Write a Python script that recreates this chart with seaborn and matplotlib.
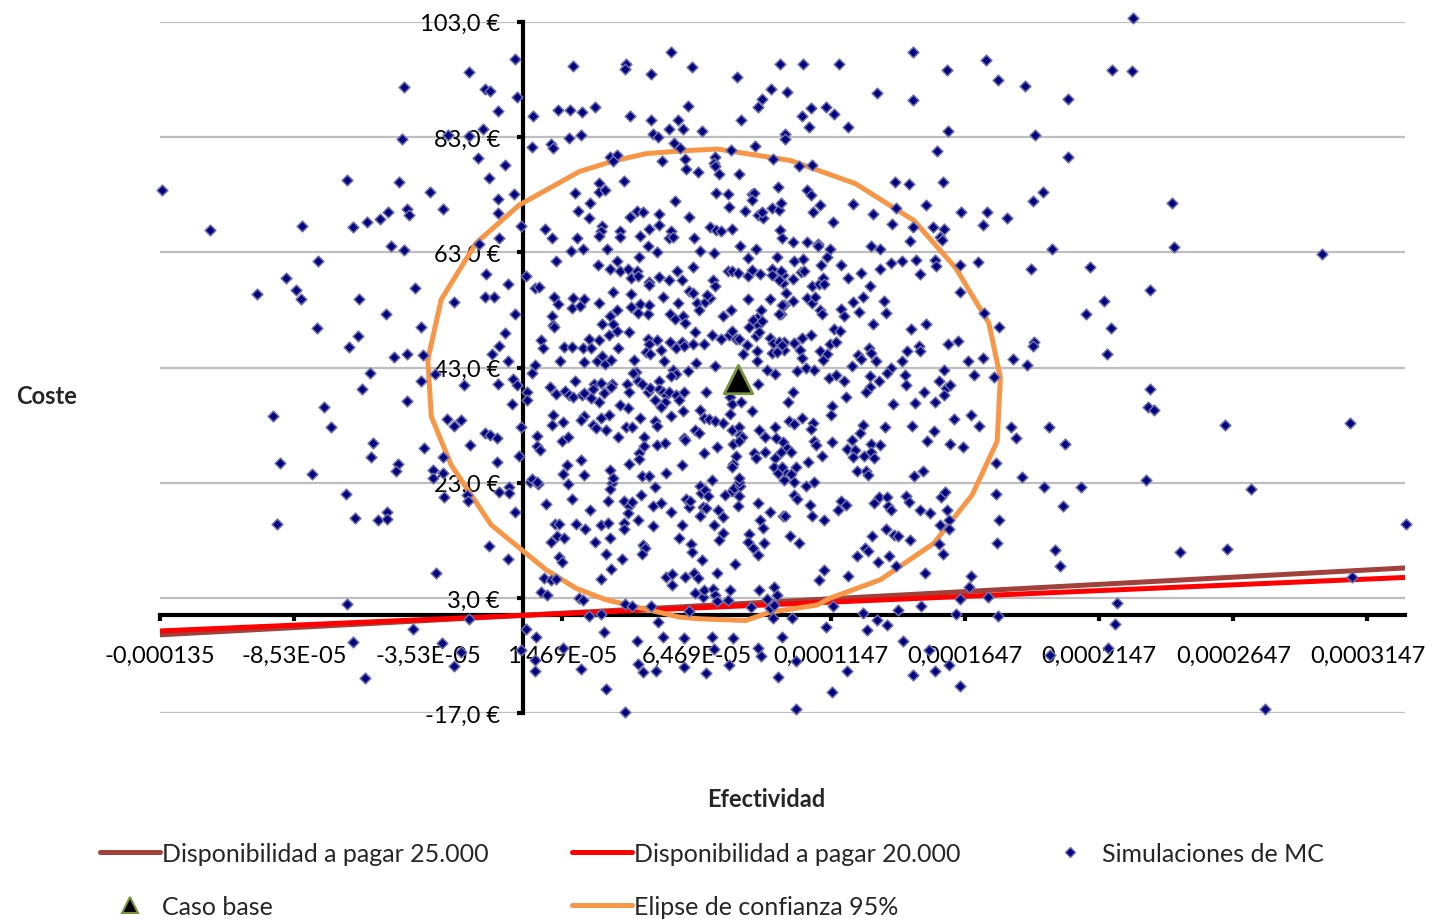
import numpy as np
import matplotlib
matplotlib.use("Agg")
import matplotlib.pyplot as plt
import seaborn as sns
from matplotlib.lines import Line2D

# ---------------- data ----------------
# Monte Carlo simulations: effectiveness (in units of 1e-5) and cost (EUR)
mc_points = [
    (-2.00,94.2),(-4.455,91.7),(-4.50,82.7),(-2.80,83.4),(-2.00,83.1),(-13.47,73.8),(-6.55,75.5),(-4.64,75.1),(-3.47,73.4),(-11.65,66.9),
    (-8.25,67.6),(-6.32,67.3),(-5.80,68.3),(-5.33,68.8),(-5.02,70.0),(-4.32,70.5),(-4.25,69.5),(-2.97,70.5),(-4.94,64.1),(-4.42,63.4),
    (-0.31,96.6),(-0.21,89.9),(-1.41,91.3),(-1.25,91.0),(-0.93,87.5),(-1.50,84.3),(-1.69,79.4),(-0.66,78.1),(-1.28,75.9),(-0.35,73.1),
    (-0.92,72.3),(-0.92,69.8),(-0.06,67.6),(-0.88,65.4),(-1.63,64.4),
    (1.87,95.4),(3.85,95.7),(3.79,94.8),(5.50,97.8),(4.78,94.0),(6.30,95.1),(7.97,93.4),(9.58,95.7),(9.23,91.3),(8.92,89.6),(8.76,88.2),
    (0.36,86.6),(1.29,87.7),(1.74,87.6),(2.20,87.3),(2.67,88.2),(1.70,82.9),(2.16,83.4),(0.32,81.3),(1.03,81.8),(1.13,81.0),
    (3.98,86.7),(4.78,85.9),(5.78,85.9),(6.14,88.4),(5.43,84.4),(5.96,84.4),(6.67,84.1),(4.86,83.5),(5.04,83.0),(5.63,81.9),(5.86,81.1),
    (8.14,86.0),(7.74,80.8),(8.66,81.5),(3.23,79.6),(3.50,79.8),(3.35,78.9),(6.04,79.1),(5.17,78.9),(6.08,77.4),(6.53,77.0),
    (7.16,79.6),(7.11,78.4),(7.17,77.9),(7.31,76.6),(8.05,76.5),(9.33,79.1),(3.75,75.4),(2.84,75.0),(2.82,73.4),(3.06,73.8),
    (1.95,73.3),(2.50,71.6),(2.04,70.2),(2.46,68.9),(3.98,69.2),(4.25,70.1),(4.47,70.0),(5.65,71.9),(5.05,69.6),(5.07,67.8),
    (4.68,67.1),(4.34,65.9),(3.60,66.6),(3.62,65.7),(2.95,67.6),(2.90,66.6),(2.83,65.8),(2.01,65.5),(0.82,67.1),(1.09,65.4),
    (5.50,66.6),(5.45,65.5),(5.57,65.7),(6.36,65.4),(6.19,69.2),(6.97,67.4),(7.18,66.9),(7.37,66.6),(7.78,67.1),(7.18,73.3),
    (7.64,73.1),(7.67,70.9),(8.27,70.2),(8.55,73.1),(8.62,73.3),(8.52,72.1),(8.76,69.4),(8.96,68.9),(8.90,69.9),(9.27,70.7),
    (9.54,70.4),(9.60,71.6),(9.51,74.3),(9.58,66.9),(9.64,65.4),
    (10.42,95.6),(11.76,95.6),(14.53,97.7),(17.24,96.3),(15.81,94.6),(17.69,92.8),(18.72,91.8),(20.31,89.6),(9.85,90.8),(13.19,90.6),(14.53,89.4),
    (10.41,86.7),(10.72,88.0),(10.67,84.8),(11.29,88.2),(11.59,87.0),(12.11,84.8),(9.78,83.6),(9.75,82.6),(15.85,84.1),(19.08,83.4),(20.31,79.6),
    (15.44,80.5),(10.30,77.9),(10.76,78.1),(15.64,75.2),(13.86,75.1),(14.37,74.8),(10.58,73.8),(10.73,72.9),(11.07,71.2),(10.81,70.0),
    (12.31,71.4),(11.54,68.3),(13.04,69.7),(13.90,70.7),(15.03,71.2),(16.31,70.0),(17.30,70.0),(17.13,67.8),(18.02,69.0),(19.02,71.9),(19.36,73.5),
    (13.76,67.9),(14.53,67.3),(14.43,64.9),(15.29,67.4),(15.70,67.1),(15.55,65.7),(15.62,65.2),(10.06,64.8),(10.58,64.8),(10.98,64.4),(11.00,64.0),(11.44,63.6),
    (12.96,64.0),(13.29,63.6),(19.72,63.6),
    (22.74,103.7),(21.96,94.6),(22.69,94.4),(24.17,71.6),(24.27,63.9),(29.77,62.7),
    (-7.64,61.4),(-8.82,58.5),(-9.90,55.8),(-8.48,56.4),(-8.29,54.9),(-4.01,56.8),(-6.12,54.9),(-2.58,54.4),(-5.09,52.3),(-7.69,49.9),
    (-3.79,50.1),(-6.15,48.5),(-6.50,46.5),(-4.81,44.8),(-4.32,45.3),(-3.73,45.1),(-5.70,42.0),(-3.30,41.9),(-3.80,40.6),(-2.21,39.9),
    (-6.02,39.3),(-4.32,37.2),(-7.41,36.2),(-9.33,34.5),(-7.14,32.7),(-2.83,34.1),(-2.56,32.8),(-2.31,33.9),(-5.58,29.9),(-3.70,29.0),
    (-5.66,27.4),(-2.98,27.4),(-9.07,26.4),(-4.66,26.3),(-4.73,25.1),(-7.86,24.5),(-3.35,25.3),(-2.98,24.7),(-3.35,23.8),(-1.96,29.5),
    (-6.61,21.1),(-9.17,15.8),(-6.26,16.8),(-5.40,16.5),(-5.06,18.0),(-5.06,16.7),(-2.93,20.5),(-2.08,20.8),(-2.06,19.8),(-3.24,7.4),
    (-6.55,1.9),(-4.11,-2.4),(-6.32,-4.6),(-3.01,-4.8),(-2.30,-6.4),(-2.58,-8.8),(-5.88,-10.8),(-2.00,-0.6),
    (-0.88,21.4),(-0.51,22.3),(-0.51,21.2),(-0.30,18.0),(-1.28,12.0),(-0.57,9.8),(0.11,-2.4),(-0.07,-6.1),(0.48,-3.8),(0.46,-7.7),
    (0.46,-9.6),(0.27,23.2),(0.55,22.8),(1.67,22.8),(1.81,20.2),(0.87,19.4),
    (1.20,15.8),(1.35,15.8),(1.25,13.8),(1.51,13.4),(1.03,12.7),(1.35,10.2),(1.45,9.2),(0.77,6.5),(1.03,6.1),(1.23,6.3),(0.67,4.0),(0.89,3.6),
    (1.98,15.8),(2.31,15.0),(2.50,18.2),(2.67,12.7),(2.89,15.7),(3.15,16.1),(3.15,19.8),(3.30,23.0),(3.23,21.9),(3.25,13.4),(3.09,10.6),(3.29,8.0),(2.90,6.3),
    (2.10,3.0),(2.24,2.6),(2.47,-0.2),(2.90,0.3),(3.03,-2.9),(3.09,-12.7),(2.16,-9.3),(1.48,-5.7),
    (3.75,19.8),(3.93,19.0),(4.05,19.7),(3.90,17.7),(3.75,16.0),(3.77,15.0),(4.27,16.5),(3.67,9.8),(4.40,20.9),(4.92,22.3),(4.83,18.9),(5.15,19.5),(4.84,15.5),
    (4.48,12.2),(4.53,11.7),(4.44,10.6),(3.81,1.9),(4.05,1.7),(4.78,1.7),(5.03,-1.2),(4.24,-4.5),(4.27,-8.5),(4.46,-9.9),(4.96,-9.7),(5.20,-3.8),(3.81,-16.7),
    (5.50,18.0),(5.32,6.6),(5.56,7.1),(5.55,5.2),(5.92,15.6),(5.80,13.4),(6.07,20.2),(6.17,18.8),(6.24,19.9),(6.26,12.4),(6.30,11.0),(6.02,6.6),(6.36,7.3),(6.53,6.4),
    (6.67,9.6),(6.41,3.9),(6.69,3.1),(6.75,4.4),(6.19,0.8),(6.00,-4.0),(5.99,-8.9),
    (6.60,22.4),(6.63,21.3),(6.79,21.8),(6.91,20.7),(6.71,18.8),(6.82,18.7),(6.59,17.2),(7.28,18.2),(7.44,17.0),(7.12,15.6),(7.44,14.3),(7.32,13.1),(7.21,7.4),
    (7.07,4.6),(7.15,3.6),(7.22,2.4),(7.63,2.7),(7.71,4.4),(7.06,-3.8),(7.10,-5.8),(6.81,-10.0),(7.66,-8.6),(7.83,-3.9),
    (7.51,20.9),(7.79,21.5),(7.88,22.1),(8.08,22.5),(8.05,23.2),(8.03,20.7),(8.00,19.0),(7.89,8.9),(8.42,14.1),(8.40,12.8),(8.57,11.7),(8.77,10.5),
    (8.75,19.5),(8.82,16.5),(8.96,15.1),(8.98,12.5),(9.19,17.9),(8.48,1.4),(8.80,4.4),(9.11,2.9),(9.35,5.0),(9.45,3.5),(9.19,1.3),(9.35,1.8),(9.31,-0.4),
    (8.77,-5.7),(8.86,-7.0),(9.50,-10.7),(9.64,-3.7),(9.69,17.3),
    (9.73,23.5),(10.10,23.1),(10.53,22.5),(10.84,23.2),(10.08,20.9),(10.22,20.1),(10.69,19.2),(10.78,17.3),(9.76,17.3),(11.21,16.5),(11.84,19.9),(12.02,19.2),(11.74,18.2),(9.95,13.7),(10.27,12.5),
    (13.08,19.5),(13.26,20.5),(13.55,20.5),(13.61,18.9),(13.70,18.2),(14.26,20.7),(14.38,19.7),(14.81,18.3),(15.15,17.7),(15.56,20.5),(15.72,21.4),(15.81,18.2),(15.87,16.6),(15.53,15.7),(15.87,15.0),
    (13.54,14.9),(13.82,14.0),(13.97,13.7),(14.42,13.1),(12.99,13.7),(12.74,11.6),(12.85,11.2),(12.46,10.3),(13.63,10.3),(13.91,8.6),(13.24,9.2),(15.50,12.4),(15.66,10.6),(14.97,7.4),
    (11.21,7.9),(11.03,6.1),(12.12,6.9),(11.55,1.7),(12.68,0.4),(13.20,-0.8),(13.57,-1.6),(12.83,-2.6),(13.97,1.0),(14.84,1.7),(11.30,-2.1),(10.01,-0.4),(10.16,-8.0),
    (14.15,-4.5),(12.06,-9.7),(11.50,-13.3),(10.19,-16.3),(15.12,-6.0),(14.53,-10.4),(15.34,-9.7),(15.87,-8.7),(16.30,-12.3),(16.15,0.3),(16.30,2.9),(16.62,4.9),(16.71,6.9),
    (17.33,3.2),(17.69,-0.2),(17.61,21.1),(17.75,16.5),(17.67,12.5),(19.40,22.3),(20.13,18.9),(20.80,22.3),(19.84,11.3),(20.03,8.6),(19.65,-6.8),
    (23.23,23.5),(27.13,22.0),(32.89,15.8),(24.49,11.0),(26.23,11.5),(30.88,6.7),(22.15,2.1),(22.07,-1.5),(21.79,-5.7),(27.66,-16.3),
    (23.35,56.5),(21.66,54.6),(21.91,49.8),(21.76,45.3),(23.35,39.3),(23.28,36.2),(23.50,35.7),(26.17,33.1),(30.83,33.3),(21.14,60.4),(20.98,52.2),
    (18.93,60.1),(16.27,60.8),(16.94,61.3),(16.27,56.1),(17.19,52.4),(17.74,50.1),(15.85,47.1),(16.21,47.6),(19.03,47.5),(19.01,46.7),(16.58,44.1),(17.13,44.6),(18.26,44.5),(18.77,43.4),(16.82,41.7),(17.54,41.4),(15.68,42.6),
    (15.50,40.6),(15.77,39.4),(15.90,40.0),(15.68,38.3),(15.35,37.0),(15.03,50.5),(14.47,49.6),(14.75,46.8),(14.79,45.8),(14.32,45.8),(14.12,44.2),(13.70,43.0),(13.57,42.1),(14.22,41.7),(14.26,40.0),(14.94,38.7),(14.60,36.9),(13.80,36.7),
    (16.05,34.1),(16.68,34.8),(17.00,32.8),(18.20,32.6),(18.36,30.8),(19.60,32.6),(20.21,29.7),(17.63,26.4),(18.58,24.0),(14.48,32.8),(15.31,31.9),(15.06,30.2),(15.90,29.8),(16.40,29.2),(14.56,24.2),(14.90,25.1),(13.50,32.7),
    (13.05,50.6),(12.93,57.1),(13.29,60.1),(13.70,61.1),(14.11,61.4),(14.63,61.6),(14.79,59.2),(15.34,61.6),(15.40,60.6),(13.45,54.5),(13.51,52.4),(12.68,55.2),(12.31,54.4),(12.52,52.7),(11.84,53.2),(11.96,52.0),(11.59,49.7),(11.81,49.3),
    (12.61,59.4),(12.11,58.5),(11.84,60.8),(11.09,60.8),(10.10,61.4),(10.43,61.9),(10.35,59.6),(10.47,59.8),(10.06,58.3),(9.67,59.0),(9.67,57.7),(10.78,57.2),(11.03,57.5),(11.19,58.6),(11.21,57.5),
    (9.81,56.0),(9.73,53.9),(10.06,54.5),(10.57,55.1),(10.78,54.2),(10.88,55.3),(11.07,52.9),(11.16,52.3),(9.60,52.2),(10.41,48.1),(10.72,48.7),(10.10,47.2),(9.73,47.5),(9.73,46.1),(10.31,46.1),(10.41,44.6),
    (11.07,45.8),(11.32,45.3),(11.18,44.3),(11.44,47.1),(11.68,47.5),(12.25,43.2),(12.48,45.2),(12.58,44.5),(12.89,46.3),(12.95,45.5),(13.14,44.2),(10.20,42.4),(10.53,43.0),(10.84,42.6),
    (11.40,41.2),(11.65,41.7),(11.96,40.7),(12.92,41.6),(13.26,40.6),(12.93,39.7),(12.80,38.8),(10.06,38.7),(9.87,37.1),(12.05,37.9),(11.53,36.4),(11.49,34.7),(10.41,34.3),(9.91,33.8),(10.08,33.2),(10.82,33.4),(10.72,32.3),
    (12.68,33.1),(12.55,31.6),(12.25,30.5),(11.50,30.1),(9.70,30.0),(9.85,29.0),(9.98,28.4),(10.84,30.3),(10.93,29.6),(12.09,28.9),(12.37,28.6),(12.31,27.4),(12.95,29.7),(13.29,29.6),(12.98,28.3),(12.70,27.6),(13.07,27.3),
    (11.16,27.6),(10.62,26.6),(9.73,25.0),(10.16,25.7),(9.98,24.6),(12.43,25.1),(12.80,25.0),(12.85,24.4),(11.34,62.1),
    (-1.38,59.2),(-0.57,57.5),(-1.40,55.2),(-1.07,55.3),(-0.30,52.3),(-0.66,48.9),(-0.88,46.8),(-1.15,45.3),(-0.57,44.2),(-0.92,40.1),
    (-0.38,41.0),(-0.23,40.0),(-0.41,36.7),(-1.41,31.7),(-1.25,31.3),(-0.98,30.8),(-0.97,26.6),(-0.14,27.7),(-0.07,32.6),
    (0.11,58.8),(0.15,38.8),(0.15,37.4),(0.33,42.0),(0.46,43.5),
    (1.80,63.3),(2.25,63.5),(3.13,63.5),(4.32,62.1),(4.66,64.1),(5.01,63.0),(1.22,61.4),(2.78,60.8),(3.23,60.1),(3.49,61.4),(3.60,59.8),(3.91,60.1),(4.04,58.6),(4.23,59.8),
    (4.29,58.8),(4.70,57.9),(5.06,58.7),(4.71,57.3),(5.45,58.1),(5.74,59.8),(5.94,58.1),(6.32,60.4),(6.58,63.3),(7.12,62.9),(7.07,58.1),(7.17,57.1),(7.63,59.8),(7.80,59.8),
    (8.00,59.4),(8.08,64.0),(8.68,63.6),(8.37,62.0),(9.45,62.1),(8.37,58.8),(8.52,59.9),(8.83,59.2),(9.28,60.1),(9.26,59.0),(9.62,59.7),(9.55,58.1),
    (0.46,56.8),(0.61,57.0),(1.17,55.3),(1.29,54.0),(1.87,55.0),(1.82,53.4),(2.12,53.6),(2.28,54.8),(2.84,54.2),(3.34,56.1),(3.50,53.0),(4.04,55.7),(4.04,53.5),(4.34,54.0),
    (4.30,52.4),(4.64,52.3),(5.20,55.3),(4.70,53.9),(5.79,54.2),(6.19,56.2),(6.35,55.9),(6.50,54.2),(6.77,54.4),(6.97,55.0),(6.84,55.6),(6.54,52.9),(7.46,51.9),(7.75,53.0),
    (8.37,54.9),(8.85,53.0),(8.71,51.6),(9.19,54.9),(9.54,52.3),(9.66,53.9),
    (1.08,51.9),(1.13,50.4),(1.14,50.0),(3.25,52.0),(2.93,50.6),(3.37,50.5),(5.47,52.3),(5.67,51.5),(5.97,52.0),(6.04,50.7),(3.50,49.3),(3.96,49.1),(3.19,48.6),(2.84,47.7),
    (2.47,48.0),(0.67,47.8),(0.73,46.3),(1.54,46.5),(1.82,46.5),(2.25,46.4),(2.53,46.3),(3.55,46.3),
    (4.64,48.0),(4.68,47.1),(5.01,47.7),(4.58,45.7),(4.73,45.3),(5.14,46.0),(5.47,47.4),(5.69,46.3),(5.92,47.5),(6.00,46.8),(6.41,49.1),(6.35,47.1),(6.75,47.1),(7.06,48.6),
    (7.37,48.0),(7.66,48.6),(7.80,49.3),(7.93,47.9),(8.06,48.0),
    (8.41,50.0),(8.57,51.2),(8.76,50.4),(8.67,48.5),(8.80,49.1),(8.90,51.0),(8.36,46.9),(8.72,45.9),(8.18,45.4),(9.19,48.1),(9.33,47.2),(9.54,47.4),(9.64,46.9),(9.29,45.5),(9.48,45.7),
    (1.39,44.2),(2.26,44.0),(2.75,44.1),(2.93,45.0),(3.06,43.6),(3.28,44.3),(4.14,44.3),(5.24,44.1),(4.21,42.3),(4.08,42.0),(5.60,42.5),(5.69,41.9),(5.53,41.6),(6.15,42.4),
    (6.44,43.8),(7.16,43.2),(8.72,44.1),(9.08,42.6),(9.40,41.9),
    (1.95,40.6),(2.63,40.2),(2.90,40.3),(3.30,40.1),(1.02,39.6),(1.23,38.4),(1.56,39.0),(1.70,38.3),(1.87,37.8),(2.18,38.2),(2.28,38.6),(2.59,39.3),(2.53,37.7),(2.84,37.1),
    (3.03,38.6),(3.27,39.7),
    (3.86,40.2),(3.96,38.8),(4.29,40.7),(4.45,40.1),(4.64,38.8),(4.74,39.5),(5.05,40.7),(5.07,39.3),(5.20,38.7),(5.32,38.2),(5.45,38.8),(4.93,37.4),(5.30,37.1),(5.14,36.1),
    (5.69,38.2),(5.82,37.4),(6.00,38.8),(3.63,36.5),(3.90,36.0),
    (6.81,38.7),(7.70,37.8),(7.78,36.7),(8.13,37.1),(8.75,40.1),(8.55,35.5),(6.60,35.7),(6.75,34.2),(6.93,34.1),(7.16,33.8),(7.70,35.0),(5.95,35.4),(5.51,34.5),(4.93,33.8),
    (5.01,32.8),(4.37,34.2),(3.83,32.6),(4.06,32.6),
    (3.21,34.8),(2.90,34.3),(2.59,33.1),(2.72,32.5),(2.28,34.5),(2.16,33.9),(1.48,33.5),(1.13,34.8),(1.08,33.1),(3.09,32.1),(3.54,31.0),(4.52,30.9),(4.52,29.4),(4.99,29.6),
    (5.30,29.9),(4.33,28.2),(6.01,30.8),(6.04,30.5),(6.41,32.2),(6.54,31.6),
    (7.47,33.4),(7.80,32.2),(8.03,32.6),(8.08,31.3),(8.15,30.9),(7.84,29.8),(8.05,30.2),(7.22,29.2),(6.75,28.2),(8.80,32.2),(9.02,30.9),(9.39,32.6),(9.42,30.8),(8.61,28.2),
    (9.02,28.3),(8.70,27.3),(9.60,28.4),(9.39,27.3),
    (0.51,31.2),(0.51,29.3),(0.63,28.6),(1.44,30.2),(1.69,30.9),(2.16,27.0),(1.62,26.0),(1.48,24.5),(4.33,27.2),(3.96,26.3),(3.25,25.3),(5.94,26.1),(7.93,27.6),(7.84,26.2),
    (7.80,25.7),(7.06,23.5),(8.05,23.8),(9.36,25.8),(9.52,24.7),(9.64,25.8),
    (4.45,24.1),(4.68,24.2),(5.32,24.7),(2.28,24.4),(3.37,23.8),(0.32,23.7),(0.52,23.1),
]
efect_mc_e5 = [p[0] for p in mc_points]
coste_mc = [p[1] for p in mc_points]

# 95% confidence ellipse vertices (effectiveness in 1e-5, cost EUR)
elipse_efect_e5 = [-3.55, -3.42, -2.68, -1.19, 0.86, 1.97, 3.09, 5.82, 6.56, 8.30, 9.17, 10.97, 11.46, 13.33,
                   15.31, 16.74, 17.67, 17.79, 17.36, 16.12, 14.57, 12.39, 9.98, 7.25, 5.94, 4.58, 3.34,
                   2.10, -0.14, -1.75, -3.05, -3.55]
elipse_coste = [44.35, 34.5, 26.1, 15.7, 7.9, 4.7, 2.7, -0.3, -0.6, -0.9, 0.5, 1.8, 3.0, 6.2,
                12.5, 20.9, 30.2, 41.2, 50.7, 60.3, 68.5, 74.9, 78.9, 80.9, 80.6, 80.1, 78.8,
                77.0, 71.2, 64.6, 54.8, 44.35]

# base case
caso_base_efect_e5 = [8.01]
caso_base_coste = [41.0]

# willingness-to-pay lines (end points)
wtp_efect = [-0.00013531, 0.0003287]
wtp25_coste = [-3.38, 8.22]
wtp20_coste = [-2.71, 6.57]

# axes
x_min, x_max = -0.00013531, 0.0003287
x_step = 0.00005
xtick_labels = ["-0,000135", "-8,53E-05", "-3,53E-05", "1,469E-05", "6,469E-05",
                "0,0001147", "0,0001647", "0,0002147", "0,0002647", "0,0003147"]
y_ticks = [-17, 3, 23, 43, 63, 83, 103]
ytick_labels = ["-17,0 €", "3,0 €", "23,0 €", "43,0 €", "63,0 €", "83,0 €", "103,0 €"]

# ---------------- style ----------------
sns.set_theme(style="white")
plt.rcParams["font.family"] = ["Lato", "DejaVu Sans"]

C_MC = "#000080"
C_WTP25 = "#A0413C"
C_WTP20 = "#FF0000"
C_ELL = "#F79646"

fig = plt.figure(figsize=(14.32, 9.2), dpi=100)
ax = fig.add_axes([160 / 1432, 1 - 714.3 / 920, (1405 - 160) / 1432, (714.3 - 22.7) / 920])

scale = 1e-5
mc_x = np.array(efect_mc_e5) * scale
ell_x = np.array(elipse_efect_e5) * scale
base_x = np.array(caso_base_efect_e5) * scale

sns.lineplot(x=wtp_efect, y=wtp25_coste, color=C_WTP25, linewidth=3.6, ax=ax,
             sort=False, estimator=None, zorder=3)
sns.lineplot(x=wtp_efect, y=wtp20_coste, color=C_WTP20, linewidth=3.6, ax=ax,
             sort=False, estimator=None, zorder=3)
sns.lineplot(x=ell_x, y=elipse_coste, color=C_ELL, linewidth=3.6, ax=ax,
             sort=False, estimator=None, zorder=3)
sns.scatterplot(x=mc_x, y=coste_mc, marker="D", s=30, color=C_MC, edgecolor="#7070AA",
                linewidth=1.1, ax=ax, zorder=4, legend=False, clip_on=False)
sns.scatterplot(x=base_x, y=caso_base_coste, marker="^", s=420, color="black",
                edgecolor="#77933C", linewidth=2.0, ax=ax, zorder=5, legend=False)

ax.set_xlim(x_min, x_max)
ax.set_ylim(-17, 103)
ax.set_xticks([x_min + k * x_step for k in range(len(xtick_labels))])
ax.set_xticklabels(xtick_labels)
ax.set_yticks(y_ticks)
ax.set_yticklabels(ytick_labels)
ax.set_xlabel("")
ax.set_ylabel("")

for s in ["top", "right"]:
    ax.spines[s].set_visible(False)
ax.spines["left"].set_position(("data", 0))
ax.spines["bottom"].set_position(("data", 0))
for s in ["left", "bottom"]:
    ax.spines[s].set_color("black")
    ax.spines[s].set_linewidth(3.0)
    ax.spines[s].set_zorder(1.5)

ax.tick_params(axis="both", which="major", direction="out", length=4.5, width=3,
               color="black", labelsize=17, labelcolor="black", bottom=True, left=True)
ax.tick_params(axis="y", pad=12)
ax.tick_params(axis="x", pad=17)
ax.yaxis.grid(True, color="#BEBEBE", linewidth=1.6)
ax.xaxis.grid(False)
ax.set_axisbelow(True)

fig.text(47 / 1432, 1 - 397 / 920, "Coste", ha="center", va="center",
         fontsize=17, fontweight="bold")
fig.text(766 / 1432, 1 - 800 / 920, "Efectividad", ha="center", va="center",
         fontsize=17, fontweight="bold")

# legend in three columns
h25 = Line2D([], [], color=C_WTP25, lw=3.6)
h20 = Line2D([], [], color=C_WTP20, lw=3.6)
hmc = Line2D([], [], ls="none", marker="D", markersize=5.5, markerfacecolor=C_MC,
             markeredgecolor="#7070AA", markeredgewidth=1.0)
hbase = Line2D([], [], ls="none", marker="^", markersize=11, markerfacecolor="black",
               markeredgecolor="#77933C", markeredgewidth=1.5)
hell = Line2D([], [], color=C_ELL, lw=3.6)

LEG_FS = 18
leg_kw = dict(loc="upper left", frameon=False, fontsize=LEG_FS, handlelength=2.4,
              handletextpad=0.08, borderpad=0, borderaxespad=0, labelspacing=1.2)
fig.legend([h25, hbase], ["Disponibilidad a pagar 25.000", "Caso base"],
           bbox_to_anchor=(100 / 1432, 1 - 843 / 920), **leg_kw)
fig.legend([h20, hell], ["Disponibilidad a pagar 20.000", "Elipse de confianza 95%"],
           bbox_to_anchor=(572 / 1432, 1 - 843 / 920), **leg_kw)
fig.legend([hmc], ["Simulaciones de MC"],
           bbox_to_anchor=(1040 / 1432, 1 - 843 / 920), **leg_kw)

fig.savefig("out.png", dpi=100)
